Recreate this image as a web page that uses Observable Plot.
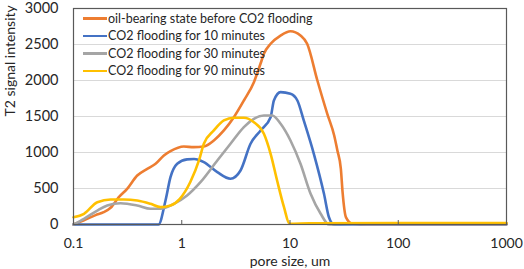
<!DOCTYPE html>
<html><head><meta charset="utf-8">
<script src="https://cdn.jsdelivr.net/npm/d3@7"></script>
<script src="https://cdn.jsdelivr.net/npm/@observablehq/plot@0.6"></script>
<style>
body{margin:0;background:#fff;}
#wrap{position:relative;width:524px;height:269px;font-family:Lato,sans-serif;}
#legend{position:absolute;left:80px;top:9px;padding:1px 3px;font-size:12.5px;color:#262626;line-height:17.4px;}
#legend .row{display:flex;align-items:center;white-space:nowrap;}
#legend .sw{display:inline-block;width:24px;height:2.6px;margin-right:1px;}
</style></head>
<body><div id="wrap"></div>
<script>
const seriesNames = ["oil-bearing state before CO2 flooding","CO2 flooding for 10 minutes","CO2 flooding for 30 minutes","CO2 flooding for 90 minutes"];
const seriesColors = ["#ED7D31","#4472C4","#A5A5A5","#FFC000"];

const oilX = [0.1,0.125,0.16,0.19,0.22,0.262,0.313,0.388,0.48,0.573,0.684,0.787,1.045,1.29,1.6,1.98,2.45,3.03,3.75,4.64,5.34,5.74,6.62,8.19,10.1,12.5,14.4,17.9,22.1,25.6,27.4,29.5,30.6,32.9,37.8,45,100,1000];
const oilY = [0,60,130,171,232,379,495,680,773,843,958,1018,1083,1074,1083,1167,1306,1490,1722,1977,2232,2371,2510,2625,2685,2625,2510,2000,1537,1236,1028,774,450,100,10,5,5,5];

const m10X = [0.1,0.5,0.61,0.708,0.787,0.908,1.12,1.3,1.6,2.13,2.82,3.49,4.32,5.35,6.62,7.1,8.19,10.1,11.7,13.4,16.6,20.6,22.9,25.5,100,1000];
const m10Y = [0,0,0,333,657,843,905,910,866,727,635,750,1121,1306,1490,1722,1838,1815,1722,1445,982,426,101,0,5,5];

const m30X = [0.1,0.125,0.166,0.205,0.272,0.388,0.515,0.637,0.846,1.12,1.49,2.13,2.82,3.75,4.64,5.74,6.86,8.19,10.1,12.5,15.5,19.2,22.9,30,100,1000];
const m30Y = [0,79,194,264,296,264,218,218,287,403,588,889,1121,1352,1468,1514,1514,1399,1167,843,426,149,0,10,15,15];

const m90X = [0.1,0.125,0.166,0.22,0.291,0.388,0.515,0.637,0.787,0.96,1.2,1.45,1.6,1.98,2.45,3.03,3.75,4.64,5.74,6.62,7.6,8.8,9.9,15,100,1000];
const m90Y = [100,149,310,347,347,333,287,241,264,357,590,900,1121,1306,1445,1482,1482,1421,1260,982,611,241,10,15,20,20];

const xTicks = [0.1,1,10,100,1000];
const yTicks = [0,500,1000,1500,2000,2500,3000];
const xLabel = "pore size, um";
const yLabel = "T2 signal intensity";

const allX = [oilX,m10X,m30X,m90X];
const allY = [oilY,m10Y,m30Y,m90Y];
const data = [];
allX.forEach((xs,i)=>xs.forEach((x,j)=>data.push({series:seriesNames[i], x, y: allY[i][j]})));

const chart = Plot.plot({
  width: 524, height: 269,
  marginLeft: 73, marginRight: 18, marginTop: 8, marginBottom: 45,
  style: {fontFamily: "Lato, sans-serif", fontSize: "14px", color: "#262626", background: "#fff"},
  x: {type: "log", domain: [0.1, 1000]},
  y: {domain: [0, 3000]},
  color: {domain: seriesNames, range: seriesColors},
  marks: [
    Plot.gridY(yTicks, {stroke: "#d9d9d9", strokeOpacity: 1, strokeWidth: 1}),
    Plot.line(data, {x: "x", y: "y", z: "series", stroke: "series", strokeWidth: 2.6, curve: "monotone-x"}),
    Plot.frame({stroke: "#595959", strokeWidth: 1.2}),
    Plot.axisY(yTicks, {tickSize: 0, tickPadding: 15, fontSize: 14.5, label: null, tickFormat: d => String(d)}),
    Plot.axisX(xTicks, {tickSize: -4, tickPadding: 18, fontSize: 14, label: null, tickFormat: d => String(d), stroke: "#595959"}),
    Plot.text([xLabel], {frameAnchor: "bottom", dy: 41, fontSize: 14, fill: "#262626"}),
    Plot.text([yLabel], {frameAnchor: "left", dx: -63, rotate: -90, fontSize: 14, fill: "#262626"})
  ]
});
const wrap = document.getElementById("wrap");
wrap.appendChild(chart);
const leg = document.createElement("div");
leg.id = "legend";
seriesNames.forEach((n,i)=>{
  const r = document.createElement("div"); r.className = "row";
  const s = document.createElement("span"); s.className = "sw"; s.style.background = seriesColors[i];
  r.appendChild(s); r.appendChild(document.createTextNode(n));
  leg.appendChild(r);
});
wrap.appendChild(leg);
</script></body></html>
